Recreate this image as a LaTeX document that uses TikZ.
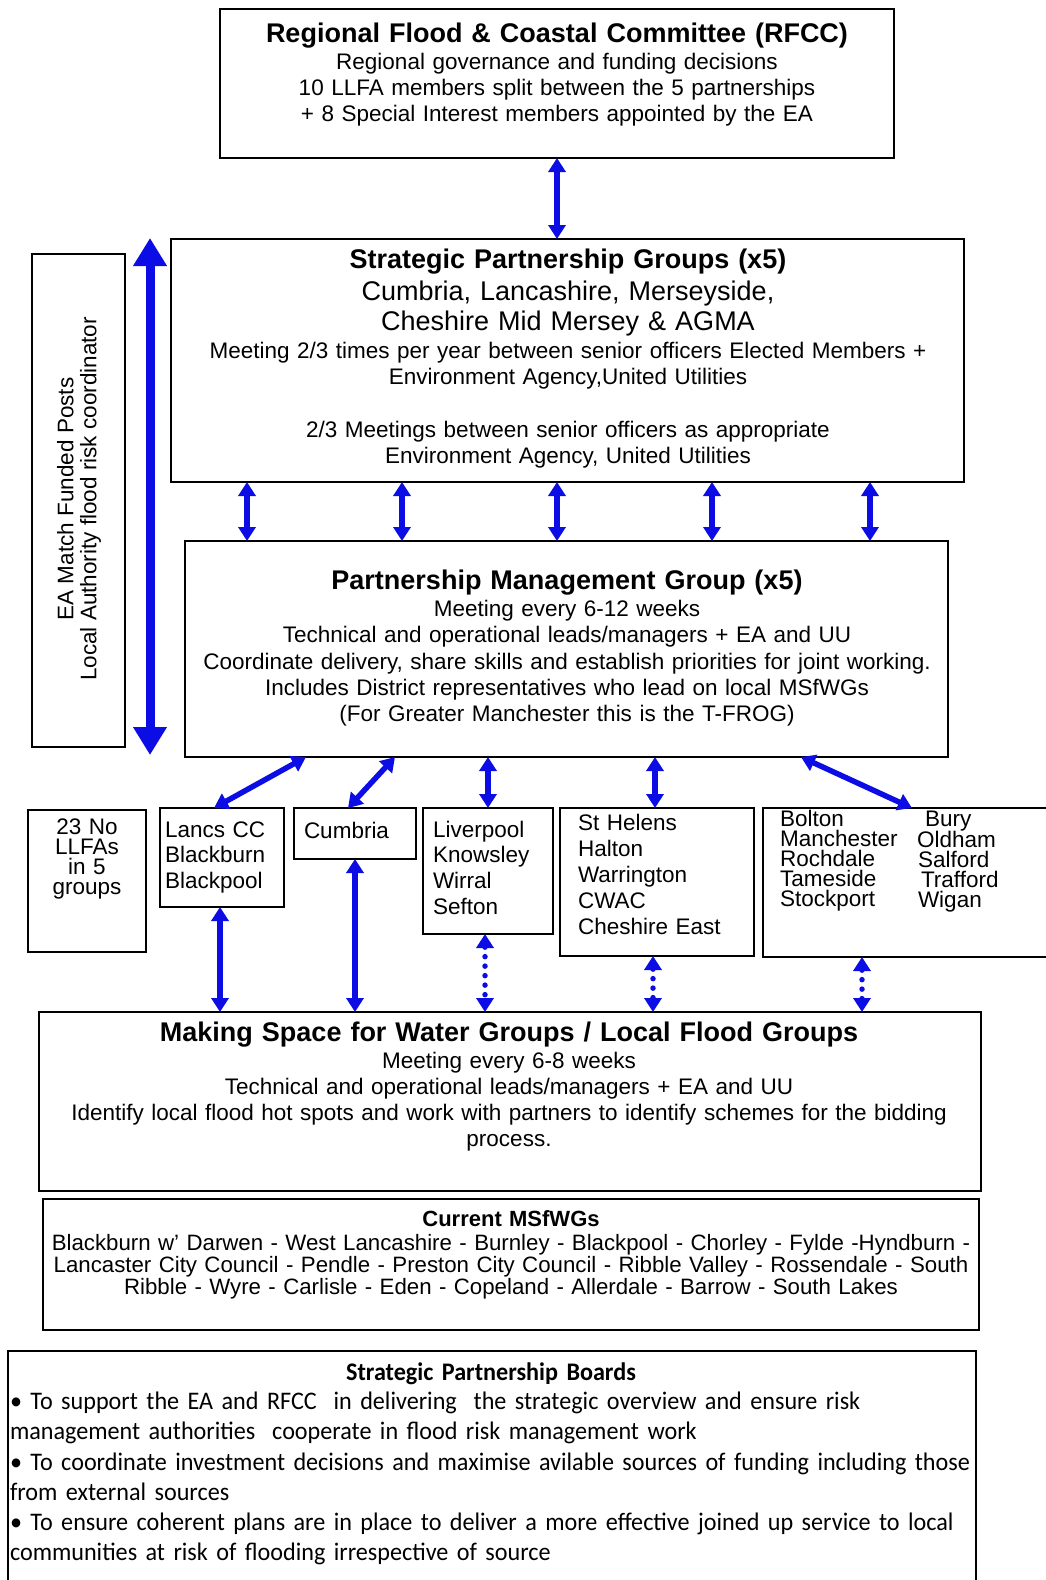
\documentclass[tikz,border=0pt]{standalone}
\usepackage{fontspec}
\setmainfont{Liberation Sans}
\newfontfamily\calibrifont[FakeStretch=0.955]{Carlito}
\usetikzlibrary{arrows.meta}
\definecolor{arrowblue}{RGB}{12,12,228}
\tikzset{
  box/.style={draw=black, line width=2.4pt, rectangle, inner sep=0pt, outer sep=0pt, anchor=north west},
  conn/.style={draw=arrowblue, line width=5.5pt, {Triangle[width=17pt,length=14pt]}-{Triangle[width=17pt,length=14pt]}},
  dotconn/.style={conn, line cap=round, dash pattern=on 0pt off 9.5pt},
  bigconn/.style={draw=arrowblue, line width=9pt, {Triangle[width=32pt,length=28pt]}-{Triangle[width=32pt,length=28pt]}},
  txt/.style={inner sep=0pt, outer sep=0pt, anchor=base, align=center},
  ltxt/.style={inner sep=0pt, outer sep=0pt, anchor=base west, align=left},
  ttl/.style={font=\bfseries\fontsize{27}{30}\selectfont},
  body/.style={font=\fontsize{22.5}{26.2}\selectfont},
}
\begin{document}
\begin{tikzpicture}[x=1pt,y=-1pt]
\useasboundingbox (0,0) rectangle (1045,1580);
\fill[white] (0,0) rectangle (1045,1580);

% RFCC
\node[box, minimum width=674pt, minimum height=149pt] (rfcc) at (220,9) {};
\node[txt, text width=660pt, ttl] (rfcct) at (557,42) {Regional Flood \& Coastal Committee (RFCC)};
\node[txt, text width=660pt, body] (rfccb) at (557,69.5) {Regional governance and funding decisions\\10 LLFA members split between the 5 partnerships\\+ 8 Special Interest members appointed by the EA};

% Strategic Partnership Groups
\node[box, minimum width=793pt, minimum height=243pt] (spg) at (171,239) {};
\node[txt, text width=780pt, ttl] (spgt) at (568,268) {Strategic Partnership Groups (x5)};
\node[txt, text width=780pt, font=\fontsize{27}{30.5}\selectfont] (spgm) at (568,300) {Cumbria, Lancashire, Merseyside,\\Cheshire Mid Mersey \& AGMA};
\node[txt, text width=780pt, body] (spgb) at (568,358.7) {Meeting 2/3 times per year between senior officers Elected Members +\\Environment Agency,United Utilities\\[25.9pt]2/3 Meetings between senior officers as appropriate\\Environment Agency, United Utilities};

% left side box and big arrow
\node[box, minimum width=93pt, minimum height=493pt] (lbox) at (32,254) {};
\node[rotate=90, inner sep=0pt, align=center, font=\fontsize{22.5}{23}\selectfont] (lboxt) at (79,499) {EA Match Funded Posts\\Local Authority flood risk coordinator};
\coordinate (bigtop) at (150,238);
\coordinate (bigbot) at (150,755);
\draw[bigconn] (bigtop) -- (bigbot);

% Partnership Management Group
\node[box, minimum width=763pt, minimum height=216pt] (pmg) at (185,541) {};
\node[txt, text width=750pt, ttl] (pmgt) at (567,589.4) {Partnership Management Group (x5)};
\node[txt, text width=750pt, body] (pmgb) at (567,616.7) {Meeting every 6-12 weeks\\Technical and operational leads/managers + EA and UU\\Coordinate delivery, share skills and establish priorities for joint working.\\Includes District representatives who lead on local MSfWGs\\(For Greater Manchester this is the T-FROG)};

% lower boxes
\node[box, minimum width=118pt, minimum height=142pt] (llfa) at (28,810) {};
\node[txt, text width=110pt, font=\fontsize{22.5}{20.3}\selectfont] (llfat) at (87,834) {23 No\\LLFAs\\in 5\\groups};

\node[box, minimum width=124pt, minimum height=99pt] (lancs) at (160,808) {};
\node[ltxt, text width=115pt, font=\fontsize{22.5}{25.5}\selectfont] (lancst) at (165,837) {Lancs CC\\Blackburn\\Blackpool};

\node[box, minimum width=122pt, minimum height=51pt] (cumbria) at (294,808) {};
\node[ltxt, text width=110pt, font=\fontsize{22.5}{25.5}\selectfont] (cumbriat) at (304,838) {Cumbria};

\node[box, minimum width=130pt, minimum height=126pt] (liverpool) at (423,808) {};
\node[ltxt, text width=118pt, font=\fontsize{22.5}{25.8}\selectfont] (liverpoolt) at (433,837) {Liverpool\\Knowsley\\Wirral\\Sefton};

\node[box, minimum width=194pt, minimum height=148pt] (sthelens) at (560,808) {};
\node[ltxt, text width=175pt, font=\fontsize{22.5}{26.2}\selectfont] (sthelenst) at (578,830) {St Helens\\Halton\\Warrington\\CWAC\\Cheshire East};

\node[box, minimum width=290pt, minimum height=149pt] (bolton) at (763,808) {};
\node[ltxt, text width=135pt, font=\fontsize{22.5}{20}\selectfont] (boltonl) at (780,826) {Bolton\\Manchester\\Rochdale\\Tameside\\Stockport};
\node[ltxt, text width=125pt, font=\fontsize{22.5}{20}\selectfont] (boltonr) at (917,826) {\hspace*{8pt}Bury\\Oldham\\\hspace*{1pt}Salford\\\hspace*{4pt}Trafford\\\hspace*{1pt}Wigan};

% Making Space for Water
\node[box, minimum width=942pt, minimum height=179pt] (msfwg) at (39,1012) {};
\node[txt, text width=930pt, ttl] (msfwgt) at (509,1041) {Making Space for Water Groups / Local Flood Groups};
\node[txt, text width=930pt, body] (msfwgb) at (509,1068) {Meeting every 6-8 weeks\\Technical and operational leads/managers + EA and UU\\Identify local flood hot spots and work with partners to identify schemes for the bidding\\process.};

% Current MSfWGs
\node[box, minimum width=936pt, minimum height=131pt] (current) at (43,1199) {};
\node[txt, text width=930pt, font=\bfseries\fontsize{22}{22.2}\selectfont] (currentt) at (511,1226) {Current MSfWGs};
\node[txt, text width=930pt, font=\fontsize{22.25}{22.2}\selectfont] (currentb) at (511,1250.5) {Blackburn w' Darwen - West Lancashire - Burnley - Blackpool - Chorley - Fylde -Hyndburn -\\Lancaster City Council - Pendle - Preston City Council - Ribble Valley - Rossendale - South\\Ribble - Wyre - Carlisle - Eden - Copeland - Allerdale - Barrow - South Lakes};

% Strategic Partnership Boards
\node[box, minimum width=968pt, minimum height=245pt] (spb) at (8,1351) {};
\node[txt, text width=900pt, font=\calibrifont\bfseries\fontsize{25.3}{30}\selectfont] (spbt) at (491,1380.5) {Strategic Partnership Boards};
\node[ltxt, text width=1000pt, font=\calibrifont\fontsize{25.3}{30.2}\selectfont] (spbb) at (10,1409.7) {• To support the EA and RFCC~ in delivering~ the strategic overview and ensure risk\\management authorities~ cooperate in flood risk management work\\• To coordinate investment decisions and maximise avilable sources of funding including those\\from external sources\\• To ensure coherent plans are in place to deliver a more effective joined up service to local\\communities at risk of flooding irrespective of source};

% connector x positions
\coordinate (s1) at (247,0);
\coordinate (s2) at (402,0);
\coordinate (s3) at (557,0);
\coordinate (s4) at (712,0);
\coordinate (s5) at (870,0);
\coordinate (p1) at (306,0);
\coordinate (q1) at (214,0);
\coordinate (p2) at (395,0);
\coordinate (q2) at (348,0);
\coordinate (p3) at (488,0);
\coordinate (p4) at (655,0);
\coordinate (p5) at (801,0);
\coordinate (q5) at (912,0);
\coordinate (r1) at (220,0);
\coordinate (r2) at (355,0);
\coordinate (r3) at (485,0);
\coordinate (r4) at (653,0);
\coordinate (r5) at (862,0);

\draw[conn] (rfcc.south) -- (rfcc.south |- spg.north);
\draw[conn] (spg.south -| s1) -- (pmg.north -| s1);
\draw[conn] (spg.south -| s2) -- (pmg.north -| s2);
\draw[conn] (spg.south -| s3) -- (pmg.north -| s3);
\draw[conn] (spg.south -| s4) -- (pmg.north -| s4);
\draw[conn] (spg.south -| s5) -- (pmg.north -| s5);

\draw[conn] (pmg.south -| p1) -- (lancs.north -| q1);
\draw[conn] (pmg.south -| p2) -- (cumbria.north -| q2);
\draw[conn] (pmg.south -| p3) -- (liverpool.north -| p3);
\draw[conn] (pmg.south -| p4) -- (sthelens.north -| p4);
\draw[conn] (pmg.south -| p5) -- (bolton.north -| q5);

\draw[conn] (lancs.south -| r1) -- (msfwg.north -| r1);
\draw[conn] (cumbria.south -| r2) -- (msfwg.north -| r2);
\draw[dotconn] (liverpool.south -| r3) -- (msfwg.north -| r3);
\draw[dotconn] (sthelens.south -| r4) -- (msfwg.north -| r4);
\draw[dotconn] (bolton.south -| r5) -- (msfwg.north -| r5);
\end{tikzpicture}
\end{document}
